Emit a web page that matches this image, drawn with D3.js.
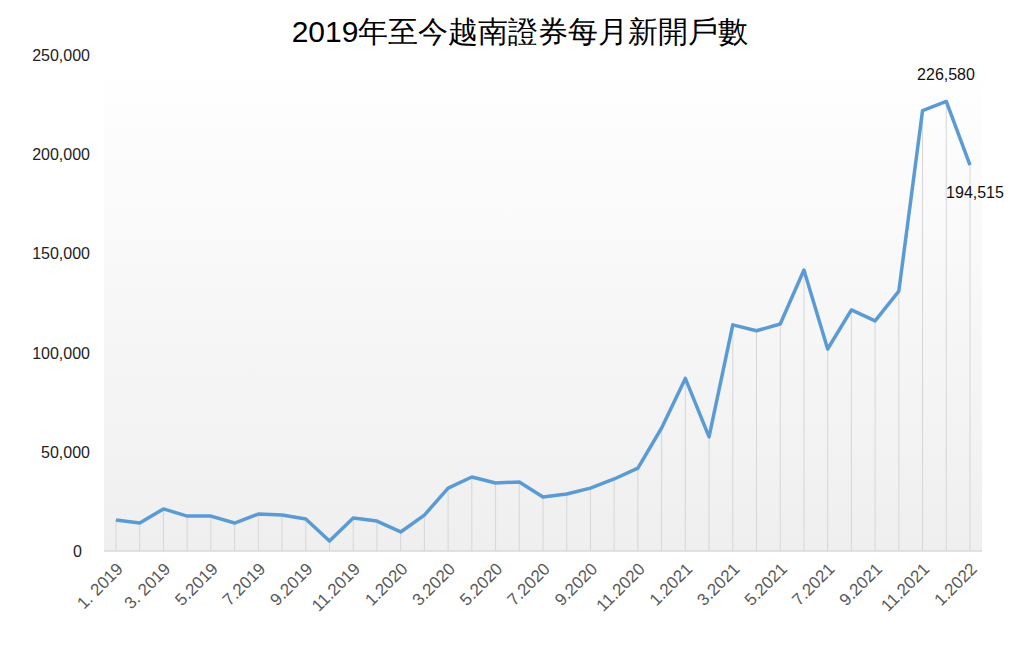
<!DOCTYPE html>
<html><head><meta charset="utf-8">
<script src="https://cdn.jsdelivr.net/npm/d3@7"></script>
<style>body{margin:0;background:#fff}text{font-family:"Liberation Sans",Arial,sans-serif}</style>
</head><body><svg id="c" width="1024" height="650"></svg>
<script>
const months = ["1. 2019","2.2019","3. 2019","4.2019","5.2019","6.2019","7.2019","8.2019","9.2019","10.2019","11.2019","12.2019",
"1.2020","2.2020","3.2020","4.2020","5.2020","6.2020","7.2020","8.2020","9.2020","10.2020","11.2020","12.2020",
"1.2021","2.2021","3.2021","4.2021","5.2021","6.2021","7.2021","8.2021","9.2021","10.2021","11.2021","12.2021","1.2022"];
const values = [15600,14100,21200,17600,17600,14100,18600,18100,16100,5000,16600,15100,
9600,18100,31700,37300,34300,34800,27200,28700,31700,36300,41800,62000,
87000,57500,114000,111000,114400,141600,101800,121500,116000,131000,222000,226580,194515];
const yTicks = [0,50000,100000,150000,200000,250000];
const title = "2019年至今越南證券每月新開戶數";

const svg = d3.select("#c");
const x = d3.scalePoint().domain(months).range([116,970]);
const y = d3.scaleLinear().domain([0,250000]).range([551,55]);
const defs = svg.append("defs");
const g = defs.append("linearGradient").attr("id","bg").attr("x1",0).attr("y1",0).attr("x2",0).attr("y2",1);
g.append("stop").attr("offset","0%").attr("stop-color","#ffffff");
g.append("stop").attr("offset","100%").attr("stop-color","#efefef");
svg.append("rect").attr("x",104).attr("y",60).attr("width",878).attr("height",491).attr("fill","url(#bg)");
svg.append("line").attr("x1",104).attr("x2",982).attr("y1",551).attr("y2",551).attr("stroke","#d9d9d9").attr("stroke-width",1.5);
svg.selectAll(".drop").data(values).join("line")
 .attr("x1",(d,i)=>x(months[i])).attr("x2",(d,i)=>x(months[i]))
 .attr("y1",y(0)).attr("y2",d=>y(d)).attr("stroke","#d6d6d6").attr("stroke-width",1);
svg.append("path").datum(values).attr("fill","none").attr("stroke","#5b9bd5").attr("stroke-width",3.5)
 .attr("stroke-linejoin","round")
 .attr("d",d3.line().x((d,i)=>x(months[i])).y(d=>y(d)));
svg.selectAll(".yt").data(yTicks).join("text")
 .attr("x",d=>d===0?82:90).attr("y",d=>y(d)+6).attr("text-anchor","end")
 .attr("font-size",16).attr("fill","#222").text(d=>d3.format(",")(d));
svg.selectAll(".xt").data(months.filter((m,i)=>i%2===0)).join("text")
 .attr("transform",m=>`translate(${x(m)+8},${570}) rotate(-45)`).attr("text-anchor","end")
 .attr("font-size",17).attr("fill","#595959").text(m=>m);
svg.append("text").attr("x",946).attr("y",80).attr("text-anchor","middle").attr("font-size",16).attr("fill","#111").text(d3.format(",")(values[35]));
svg.append("text").attr("x",975).attr("y",198).attr("text-anchor","middle").attr("font-size",16).attr("fill","#111").text(d3.format(",")(values[36]));
svg.append("text").attr("x",520).attr("y",42).attr("text-anchor","middle").attr("font-size",30)
 .attr("font-family","'Noto Sans CJK TC',sans-serif").attr("fill","#000").text(title);
</script></body></html>
